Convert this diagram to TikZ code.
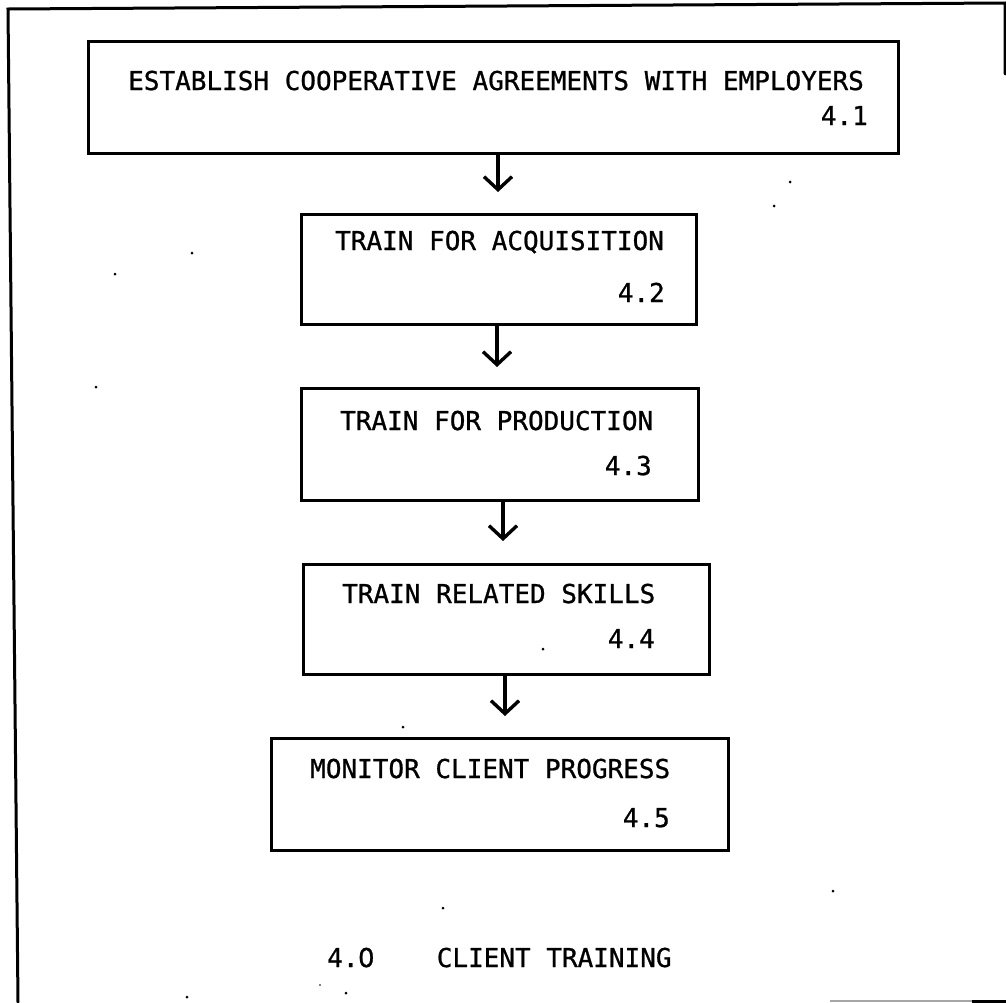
\documentclass[tikz,border=0pt]{standalone}
\usepackage{fontspec}
\newfontfamily\typer[FakeBold=0.9]{DejaVu Sans Mono}
\newfontfamily\plainzero[FakeBold=0.9]{DejaVu Sans}
% a plain (unmarked) zero set in one monospaced cell
\newcommand\pzero{\makebox[0.602em][c]{\plainzero 0}}
\usetikzlibrary{arrows.meta}
\begin{document}
\begin{tikzpicture}[x=1pt,y=-1pt,
  box/.style={draw=black,line width=3.2pt,rectangle,inner sep=0pt,anchor=north west},
  lbl/.style={inner sep=0pt,font=\typer\fontsize{26}{30}\selectfont},
  arr/.style={line width=3.4pt,-{Straight Barb[length=13pt,width=28pt,line width=3.4pt]}},
  frame/.style={line width=3pt,line cap=round},
  speck/.style={fill=black}]
\useasboundingbox (0,0) rectangle (1006,1002);

% outer frame
\draw[frame] (1005,74) -- (1005,3) -- (8,9) -- (18,1002);
\draw[line width=2pt,gray!70] (830,1001) -- (972,1001);
\draw[line width=3pt] (972,1001) -- (1006,1001);

% boxes
\node[box,minimum width=810pt,minimum height=112pt] (b1) at (87,40) {};
\node[box,minimum width=395pt,minimum height=110pt] (b2) at (300,213) {};
\node[box,minimum width=397pt,minimum height=112pt] (b3) at (300,387) {};
\node[box,minimum width=406pt,minimum height=110pt] (b4) at (302,563) {};
\node[box,minimum width=457pt,minimum height=112pt] (b5) at (270,737) {};

% box texts
\node[lbl,anchor=base west] (t1) at (128,90) {ESTABLISH COOPERATIVE AGREEMENTS WITH EMPLOYERS};
\node[lbl,anchor=base east] (n1) at (868,125) {4.1};
\node[lbl,anchor=base west] (t2) at (335,250) {TRAIN FOR ACQUISITION};
\node[lbl,anchor=base east] (n2) at (665,302) {4.2};
\node[lbl,anchor=base west] (t3) at (340,430) {TRAIN FOR PRODUCTION};
\node[lbl,anchor=base east] (n3) at (652,475) {4.3};
\node[lbl,anchor=base west] (t4) at (342,603) {TRAIN RELATED SKILLS};
\node[lbl,anchor=base east] (n4) at (655,648) {4.4};
\node[lbl,anchor=base west] (t5) at (310,778) {MONITOR CLIENT PROGRESS};
\node[lbl,anchor=base east] (n5) at (670,827) {4.5};

% caption
\node[lbl,anchor=base west] (cap) at (327,967) {4.\pzero\ \ \ \ CLIENT TRAINING};

% connectors
\coordinate (e1) at (498,192);
\coordinate (e2) at (497,367);
\coordinate (e3) at (503,541);
\coordinate (e4) at (505,716);
\draw[arr] (e1 |- b1.south) -- (e1);
\draw[arr] (e2 |- b2.south) -- (e2);
\draw[arr] (e3 |- b3.south) -- (e3);
\draw[arr] (e4 |- b4.south) -- (e4);

% specks
\foreach \p in {(790,182),(774,206),(192,253),(115,274),(96,387),(543,649),(403,727),(833,891),(443,908),(187,997),(346,993)}
  \fill[speck] \p circle (1.5pt);
\fill[speck] (320,985) circle (0.8pt);
\end{tikzpicture}
\end{document}
